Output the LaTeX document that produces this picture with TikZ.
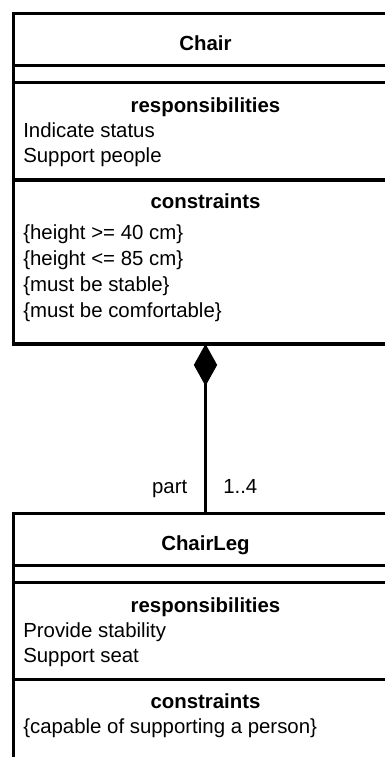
\documentclass[tikz,border=0pt]{standalone}
\usepackage{fontspec}
\setmainfont{Liberation Sans}
\usetikzlibrary{arrows.meta, positioning}
\tikzset{x=0.75pt, y=-0.75pt, >={Diamond[length=31.5pt, width=17.5pt]}}

\begin{document}
\begin{tikzpicture}
% Style
[
    line cap=rect,
    class box/.style={draw, line width=2.5pt, inner sep=0pt, outer sep=0pt, minimum width=288.3pt, anchor=north},
    divider/.style={line width=2.5pt},
    link/.style={->, line width=2.3pt, line cap=butt},
    title text/.style={font=\bfseries\fontsize{15.3pt}{18pt}\selectfont, anchor=base, inner sep=0pt},
    item text/.style={font=\fontsize{15.3pt}{18pt}\selectfont, anchor=base west, inner sep=0pt}
]

%=================================== Start ===================================
{
    % Define: Page
    \useasboundingbox (0, 0) rectangle (385, 757);
    \clip (0, 0) rectangle (385, 757);

    % Draw: Chair
    \node[class box, minimum height=248pt] (chair) at (205.5, 13.3) {};
    \foreach \y in {65.7, 82.3, 180} {
        \draw[divider] (chair.west |- 0,\y) -- (chair.east |- 0,\y);
    }
    \node[title text] (chair name) at (chair.north |- 0,50) {Chair};
    \node[title text] (chair resp) at (chair.north |- 0,112) {responsibilities};
    \node[title text] (chair cons) at (chair.north |- 0,208) {constraints};
    \foreach \txt [count=\i] in {Indicate status, Support people} {
        \node[item text] (chair resp \i) at (23, 137+25*\i-25) {\txt};
    }
    \foreach \txt [count=\i] in {{\{height >= 40 cm\}}, {\{height <= 85 cm\}},
                                 {\{must be stable\}}, {\{must be comfortable\}}} {
        \node[item text] (chair cons \i) at (23, 239+26*\i-26) {\txt};
    }

    % Draw: ChairLeg
    \node[class box, minimum height=215pt] (chairleg) at (205.5, 513.3) {};
    \foreach \y in {565.7, 582.3, 679.5} {
        \draw[divider] (chairleg.west |- 0,\y) -- (chairleg.east |- 0,\y);
    }
    \node[title text] (leg name) at (chairleg.north |- 0,550) {ChairLeg};
    \node[title text] (leg resp) at (chairleg.north |- 0,612) {responsibilities};
    \node[title text] (leg cons) at (chairleg.north |- 0,708) {constraints};
    \foreach \txt [count=\i] in {Provide stability, Support seat} {
        \node[item text] (leg resp \i) at (23, 637+25*\i-25) {\txt};
    }
    \node[item text] (leg cons 1) at (23, 733) {\{capable of supporting a person\}};

    % Draw: Composition
    \draw[link] (chairleg.north) -- (chair.south);
    \node[item text, anchor=base east] (role) at (187.5, 493) {part};
    \node[item text] (mult) at (223, 493) {1..4};
}
%==================================== END ====================================

\end{tikzpicture}
\end{document}
